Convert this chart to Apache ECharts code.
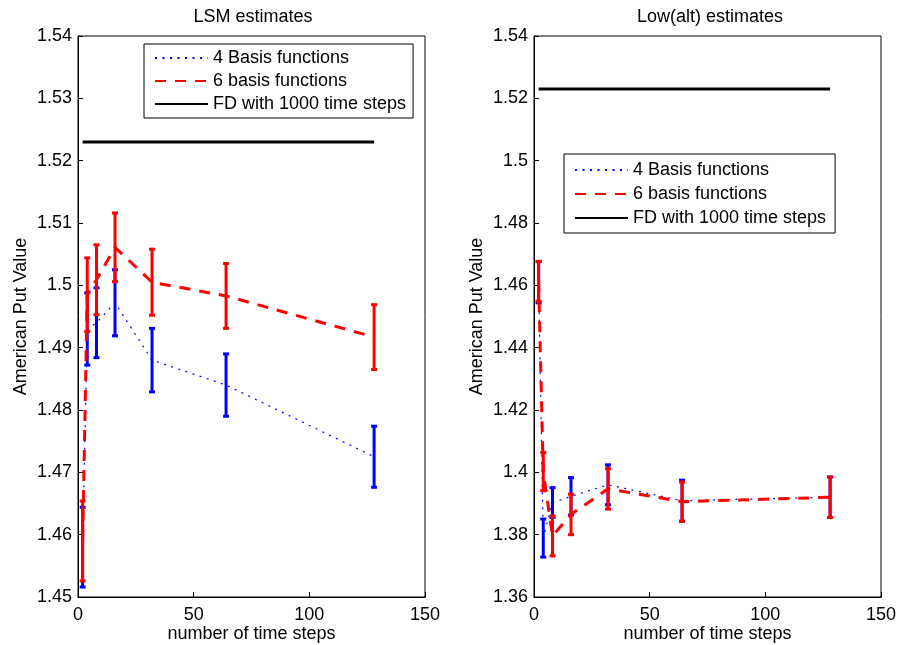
<!DOCTYPE html>
<html>
<head>
<meta charset="utf-8">
<script src="https://cdn.jsdelivr.net/npm/echarts@6/dist/echarts.min.js"></script>
<style>
  html, body { margin: 0; padding: 0; background: #fff; }
  #chart { width: 898px; height: 645px; }
</style>
</head>
<body>
<div id="chart"></div>
<script>
// Number of time steps used by each estimator
const steps = [2, 4, 8, 16, 32, 64, 128];

// LSM estimates: means and half-widths of the error bars
const lsmBasis4 = [1.4580, 1.4930, 1.4940, 1.4972, 1.4880, 1.4840, 1.4725];
const lsmBasis4Err = [0.0064, 0.0058, 0.0056, 0.0053, 0.0051, 0.0050, 0.0049];
const lsmBasis6 = [1.4590, 1.4985, 1.5009, 1.5061, 1.5005, 1.4983, 1.4917];
const lsmBasis6Err = [0.0064, 0.0059, 0.0056, 0.0055, 0.0053, 0.0052, 0.0052];

// Low(alt) estimates: means and half-widths of the error bars
const altBasis4 = [1.4610, 1.3789, 1.3903, 1.3923, 1.3960, 1.3909, 1.3920];
const altBasis4Err = [0.0066, 0.0061, 0.0048, 0.0060, 0.0064, 0.0066, 0.0065];
const altBasis6 = [1.4613, 1.4002, 1.3796, 1.3865, 1.3947, 1.3906, 1.3920];
const altBasis6Err = [0.0064, 0.0061, 0.0064, 0.0065, 0.0065, 0.0063, 0.0065];

// Finite-difference reference value
const fdSteps = [2, 128];
const fdValue = 1.523;

// Axis ranges
const xRange = { min: 0, max: 150, interval: 50 };
const lsmRange = { min: 1.45, max: 1.54, interval: 0.01 };
const altRange = { min: 1.36, max: 1.54, interval: 0.02 };

const legendNames = ['4 Basis functions', '6 basis functions', 'FD with 1000 time steps'];

const FONT = 'Liberation Sans';
const FS = 18;
const BLUE = '#0000ff';
const RED = '#ff0000';

function fmt(v) { return String(parseFloat(v.toFixed(2))); }

function xAxis(gridIndex) {
  return {
    type: 'value', gridIndex, min: xRange.min, max: xRange.max, interval: xRange.interval,
    name: 'number of time steps', nameLocation: 'middle', nameGap: 28, nameMoveOverlap: false,
    nameTextStyle: { fontFamily: FONT, fontSize: FS, color: '#000' },
    axisLine: { show: true, onZero: false, lineStyle: { color: '#000', width: 1 } },
    axisTick: { inside: true, length: 5, lineStyle: { color: '#000' } },
    axisLabel: { fontFamily: FONT, fontSize: FS, color: '#000', margin: 9 },
    splitLine: { show: false }
  };
}

function yAxis(gridIndex, r) {
  return {
    type: 'value', gridIndex, min: r.min, max: r.max, interval: r.interval,
    name: 'American Put Value', nameLocation: 'middle', nameGap: 48, nameRotate: 90,
    nameTextStyle: { fontFamily: FONT, fontSize: FS, color: '#000' },
    axisLine: { show: true, onZero: false, lineStyle: { color: '#000', width: 1 } },
    axisTick: { inside: true, length: 5, lineStyle: { color: '#000' } },
    axisLabel: { fontFamily: FONT, fontSize: FS, color: '#000', margin: 6, formatter: fmt },
    splitLine: { show: false }
  };
}

function meanLine(idx, name, means, color, width, dash, z) {
  return {
    type: 'line', name, xAxisIndex: idx, yAxisIndex: idx,
    data: steps.map((s, i) => [s, means[i]]),
    symbol: 'none', showSymbol: false, z,
    lineStyle: { color, width, type: dash },
    itemStyle: { color }
  };
}

function errorBars(idx, name, means, errs, color, z) {
  return {
    type: 'custom', name, xAxisIndex: idx, yAxisIndex: idx, z,
    data: steps.map((s, i) => [s, means[i] - errs[i], means[i] + errs[i]]),
    encode: { x: 0, y: [1, 2] },
    renderItem: function (params, api) {
      const lo = api.coord([api.value(0), api.value(1)]);
      const hi = api.coord([api.value(0), api.value(2)]);
      const cap = 3;
      const style = { stroke: color, lineWidth: 3 };
      return {
        type: 'group',
        children: [
          { type: 'line', shape: { x1: lo[0], y1: lo[1], x2: hi[0], y2: hi[1] }, style },
          { type: 'line', shape: { x1: lo[0] - cap, y1: lo[1], x2: lo[0] + cap, y2: lo[1] }, style },
          { type: 'line', shape: { x1: hi[0] - cap, y1: hi[1], x2: hi[0] + cap, y2: hi[1] }, style }
        ]
      };
    }
  };
}

function fdLine(idx) {
  return {
    type: 'line', name: legendNames[2], xAxisIndex: idx, yAxisIndex: idx,
    data: fdSteps.map(s => [s, fdValue]),
    symbol: 'none', showSymbol: false, z: 10,
    lineStyle: { color: '#000', width: 3, type: 'solid' },
    itemStyle: { color: '#000' }
  };
}

function legend(left, top, gap, pad) {
  return {
    orient: 'vertical', left, top,
    data: legendNames,
    itemWidth: 53, itemHeight: 14, itemGap: gap,
    padding: pad,
    borderColor: '#000', borderWidth: 1, borderRadius: 0,
    backgroundColor: '#fff',
    selectedMode: false,
    itemStyle: { opacity: 0 },
    textStyle: { fontFamily: FONT, fontSize: FS, color: '#000' }
  };
}

const chart = echarts.init(document.getElementById('chart'), null, { renderer: 'canvas' });
chart.setOption({
  animation: false,
  backgroundColor: '#fff',
  title: [
    { text: 'LSM estimates', left: 248, top: 3, textAlign: 'center',
      textStyle: { fontFamily: FONT, fontSize: FS, fontWeight: 'normal', color: '#000' } },
    { text: 'Low(alt) estimates', left: 705, top: 3, textAlign: 'center',
      textStyle: { fontFamily: FONT, fontSize: FS, fontWeight: 'normal', color: '#000' } }
  ],
  grid: [
    { left: 78, top: 36, width: 347, height: 561, outerBoundsMode: 'none', containLabel: false,
      show: true, borderColor: '#000', borderWidth: 1, backgroundColor: 'transparent' },
    { left: 534, top: 36, width: 347, height: 561, outerBoundsMode: 'none', containLabel: false,
      show: true, borderColor: '#000', borderWidth: 1, backgroundColor: 'transparent' }
  ],
  xAxis: [xAxis(0), xAxis(1)],
  yAxis: [yAxis(0, lsmRange), yAxis(1, altRange)],
  legend: [legend(144, 44, 5, [5, 7, 5, 10]), legend(564, 154, 6, [7, 9, 6, 10])],
  series: [
    errorBars(0, 'lsm4err', lsmBasis4, lsmBasis4Err, BLUE, 2),
    meanLine(0, legendNames[0], lsmBasis4, BLUE, 1.2, [2, 5.5], 3),
    errorBars(0, 'lsm6err', lsmBasis6, lsmBasis6Err, RED, 4),
    meanLine(0, legendNames[1], lsmBasis6, RED, 3, [11, 9], 5),
    fdLine(0),
    errorBars(1, 'alt4err', altBasis4, altBasis4Err, BLUE, 2),
    meanLine(1, legendNames[0], altBasis4, BLUE, 1.2, [2, 5.5], 3),
    errorBars(1, 'alt6err', altBasis6, altBasis6Err, RED, 4),
    meanLine(1, legendNames[1], altBasis6, RED, 3, [11, 9], 5),
    fdLine(1)
  ]
});
</script>
</body>
</html>
